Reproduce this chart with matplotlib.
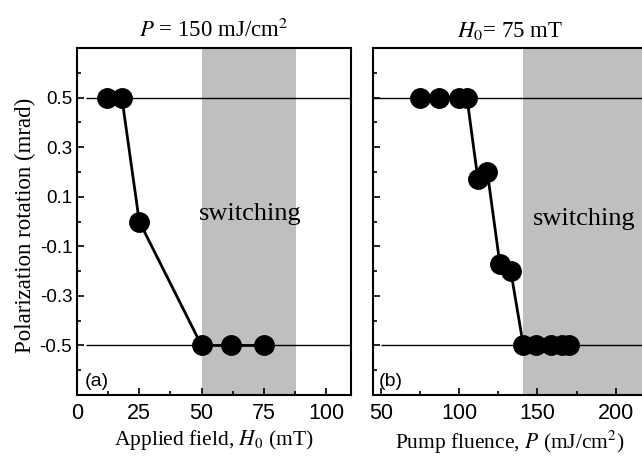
import numpy as np
import matplotlib
matplotlib.use('Agg')
import matplotlib.pyplot as plt
from matplotlib.ticker import MultipleLocator

plt.rcParams['mathtext.fontset'] = 'stix'
plt.rcParams['axes.unicode_minus'] = False

# panel (a): rotation vs applied field at P = 150 mJ/cm^2
fieldH = [12, 18, 25, 50, 62, 75]
rotA = [0.5, 0.5, 0.0, -0.5, -0.5, -0.5]

# panel (b): rotation vs pump fluence at H0 = 75 mT
fluenceP = [75, 87, 100, 105, 112, 118, 126, 133, 141, 149, 159, 166, 170]
rotB = [0.5, 0.5, 0.5, 0.5, 0.17, 0.2, -0.17, -0.2, -0.5, -0.5, -0.5, -0.5, -0.5]

switchA = (50, 88)
switchB = (141, 230)

sans = 'Liberation Sans'
serif = 'Liberation Serif'

fig = plt.figure(figsize=(6.42, 4.57), dpi=100)
axA = fig.add_axes([77/642, 62/457, 274/642, 347/457])
axB = fig.add_axes([373/642, 62/457, 274/642, 347/457])

def style(ax):
    ax.set_ylim(-0.7, 0.7)
    ax.set_yticks([-0.5, -0.3, -0.1, 0.1, 0.3, 0.5])
    ax.yaxis.set_minor_locator(MultipleLocator(0.1))
    ax.tick_params(which='both', direction='in', top=False, right=False, width=1.2)
    ax.tick_params(which='major', length=5)
    ax.tick_params(which='minor', length=3)
    ax.tick_params(axis='x', which='major', labelsize=15.5, pad=6)
    ax.tick_params(axis='y', which='major', labelsize=13.5)
    for lab in ax.get_xticklabels() + ax.get_yticklabels():
        lab.set_family(sans)
    for s in ax.spines.values():
        s.set_linewidth(1.5)

# (a)
axA.set_xlim(0, 110)
axA.set_xticks([0, 25, 50, 75, 100])
axA.xaxis.set_minor_locator(MultipleLocator(12.5))
axA.axvspan(*switchA, color='#bfbfbf', lw=0, zorder=0)
axA.hlines([0.5, -0.5], 3.5, 110, colors='black', lw=1, zorder=1)
axA.plot(fieldH, rotA, color='black', lw=2, marker='o', ms=14, zorder=3)
axA.text(69.5, 0.03, 'switching', family=serif, fontsize=19, ha='center', va='center')
axA.text(3, -0.645, '(a)', family=sans, fontsize=14, ha='left', va='center')
axA.set_title('$P$ = 150 mJ/cm$^2$', family=serif, fontsize=16.5, pad=8)
axA.set_xlabel('Applied field, $H_0$ (mT)', family=serif, fontsize=15.5, labelpad=3)
axA.set_ylabel('Polarization rotation (mrad)', family=serif, fontsize=16.5)
axA.yaxis.set_label_coords(-0.15, 0.49)
style(axA)

# (b)
axB.set_xlim(45, 220)
axB.set_xticks([50, 100, 150, 200])
axB.xaxis.set_minor_locator(MultipleLocator(25))
axB.axvspan(*switchB, color='#bfbfbf', lw=0, zorder=0)
axB.axhline(0.5, color='black', lw=1, zorder=1)
axB.hlines(-0.5, 50, 220, colors='black', lw=1, zorder=1)
axB.plot(fluenceP, rotB, color='black', lw=2, marker='o', ms=14, zorder=3)
axB.text(180, 0.01, 'switching', family=serif, fontsize=19, ha='center', va='center')
axB.text(48.5, -0.645, '(b)', family=sans, fontsize=14, ha='left', va='center')
axB.set_title('$H_0$= 75 mT', family=serif, fontsize=16.5, pad=8)
axB.set_xlabel('Pump fluence, $P$ (mJ/cm$^2$)', family=serif, fontsize=15.5, labelpad=3)
style(axB)
axB.set_yticklabels([])

fig.savefig('out.png', dpi=100)
